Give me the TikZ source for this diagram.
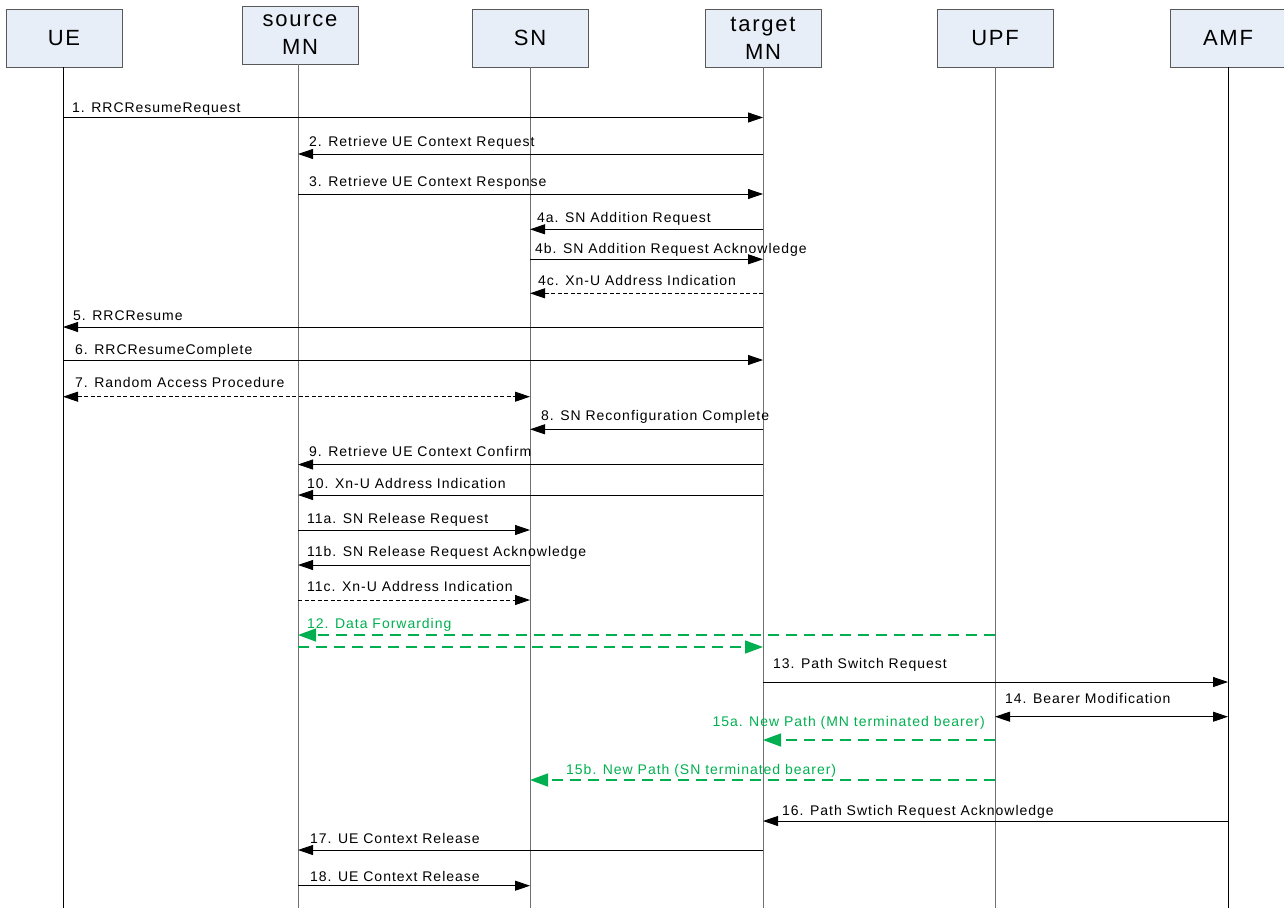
\documentclass[tikz,border=0pt]{standalone}
\usepackage{fontspec}
\setmainfont{Liberation Sans}
\newfontfamily\lblfont[LetterSpace=7]{Liberation Sans}
\newfontfamily\ttlfont[LetterSpace=8]{Liberation Sans}
\usetikzlibrary{arrows.meta}
\definecolor{boxfill}{HTML}{E8EEF8}
\definecolor{fwdgreen}{HTML}{00B050}
\definecolor{lifegray}{HTML}{707070}
\begin{document}
\begin{tikzpicture}[x=1pt, y=-1pt,
  ent/.style={draw=black!65, fill=boxfill, minimum width=116pt, minimum height=58pt, inner sep=0pt, align=center, font=\ttlfont\fontsize{22}{28}\selectfont},
  life/.style={draw=lifegray, line width=1pt},
  lifeblk/.style={draw=black, line width=1pt},
  msg/.style={draw=black, line width=0.8pt, -{Triangle[length=15pt,width=10pt]}},
  dmsg/.style={msg, dash pattern=on 4pt off 2.5pt},
  bdmsg/.style={dmsg, {Triangle[length=15pt,width=10pt]}-{Triangle[length=15pt,width=10pt]}},
  bmsg/.style={msg, {Triangle[length=15pt,width=10pt]}-{Triangle[length=15pt,width=10pt]}},
  gmsg/.style={draw=fwdgreen, line width=1.4pt, dash pattern=on 11pt off 7pt, -{Triangle[length=18pt,width=13pt]}},
  lbl/.style={anchor=base west, inner sep=0pt, font=\lblfont\fontsize{14}{16}\selectfont},
  glbl/.style={lbl, text=fwdgreen}]
\useasboundingbox (0,0) rectangle (1284,908);
\fill[white] (0,0) rectangle (1284,908);
% entities
\node[ent] (ue)  at (64,38)   {UE};
\node[ent] (smn) at (300,35)  {source\\MN};
\node[ent] (sn)  at (530,38)  {SN};
\node[ent] (tmn) at (763,38)  {target\\MN};
\node[ent] (upf) at (995,38)  {UPF};
\node[ent] (amf) at (1228,38) {AMF};
% lifelines
\coordinate (ueL)  at (63,67);
\coordinate (smnL) at (298,64);
\draw[lifeblk] (ueL)  -- (ueL |- 0,908);
\draw[life]    (smnL) -- (smnL |- 0,908);
\draw[life]    (sn.south)  -- (sn.south |- 0,908);
\draw[life]    (tmn.south) -- (tmn.south |- 0,908);
\draw[life]    (upf.south) -- (upf.south |- 0,908);
\draw[lifeblk] (amf.south) -- (amf.south |- 0,908);
% 1
\draw[msg] (ueL |- 0,117.5) -- (tmn |- 0,117.5);
\node[lbl] (l1) at (72,112.5) {1. RRCResumeRequest};
% 2
\draw[msg] (tmn |- 0,154) -- (smnL |- 0,154);
\node[lbl] (l2) at (309,146) {2. Retrieve UE Context Request};
% 3
\draw[msg] (smnL |- 0,194) -- (tmn |- 0,194);
\node[lbl] (l3) at (309,186) {3. Retrieve UE Context Response};
% 4a
\draw[msg] (tmn |- 0,229.3) -- (sn |- 0,229.3);
\node[lbl] (l4a) at (537,222.7) {4a. SN Addition Request};
% 4b
\draw[msg] (sn |- 0,259.3) -- (tmn |- 0,259.3);
\node[lbl] (l4b) at (535,253) {4b. SN Addition Request Acknowledge};
% 4c
\draw[dmsg] (tmn |- 0,293.3) -- (sn |- 0,293.3);
\node[lbl] (l4c) at (538,285.5) {4c. Xn-U Address Indication};
% 5
\draw[msg] (tmn |- 0,327) -- (ueL |- 0,327);
\node[lbl] (l5) at (73,320) {5. RRCResume};
% 6
\draw[msg] (ueL |- 0,360) -- (tmn |- 0,360);
\node[lbl] (l6) at (75,354) {6. RRCResumeComplete};
% 7
\draw[bdmsg] (ueL |- 0,396.7) -- (sn |- 0,396.7);
\node[lbl] (l7) at (75,387) {7. Random Access Procedure};
% 8
\draw[msg] (tmn |- 0,429.3) -- (sn |- 0,429.3);
\node[lbl] (l8) at (541,420.7) {8. SN Reconfiguration Complete};
% 9
\draw[msg] (tmn |- 0,464.5) -- (smnL |- 0,464.5);
\node[lbl] (l9) at (309,456) {9. Retrieve UE Context Confirm};
% 10
\draw[msg] (tmn |- 0,495) -- (smnL |- 0,495);
\node[lbl] (l10) at (307,488) {10. Xn-U Address Indication};
% 11a
\draw[msg] (smnL |- 0,530) -- (sn |- 0,530);
\node[lbl] (l11a) at (307,523) {11a. SN Release Request};
% 11b
\draw[msg] (sn |- 0,565) -- (smnL |- 0,565);
\node[lbl] (l11b) at (307,556) {11b. SN Release Request Acknowledge};
% 11c
\draw[dmsg] (smnL |- 0,600) -- (sn |- 0,600);
\node[lbl] (l11c) at (307,591.7) {11c. Xn-U Address Indication};
% 12
\draw[gmsg] (upf |- 0,635) -- (smnL |- 0,635);
\draw[gmsg] (smnL |- 0,647) -- (tmn |- 0,647);
\node[glbl] (l12) at (307,628) {12. Data Forwarding};
% 13
\draw[msg] (tmn |- 0,682) -- (amf |- 0,682);
\node[lbl] (l13) at (773,668.3) {13. Path Switch Request};
% 14
\draw[bmsg] (upf |- 0,716.7) -- (amf |- 0,716.7);
\node[lbl] (l14) at (1005,703.3) {14. Bearer Modification};
% 15a
\draw[gmsg] (upf |- 0,740) -- (tmn |- 0,740);
\node[glbl, anchor=base east] (l15a) at (985,726.7) {15a. New Path (MN terminated bearer)};
% 15b
\draw[gmsg] (upf |- 0,780) -- (sn |- 0,780);
\node[glbl] (l15b) at (566,774) {15b. New Path (SN terminated bearer)};
% 16
\draw[msg] (amf |- 0,821) -- (tmn |- 0,821);
\node[lbl] (l16) at (782,815) {16. Path Swtich Request Acknowledge};
% 17
\draw[msg] (tmn |- 0,850) -- (smnL |- 0,850);
\node[lbl] (l17) at (310,843.3) {17. UE Context Release};
% 18
\draw[msg] (smnL |- 0,885.7) -- (sn |- 0,885.7);
\node[lbl] (l18) at (310,881) {18. UE Context Release};
\end{tikzpicture}
\end{document}
